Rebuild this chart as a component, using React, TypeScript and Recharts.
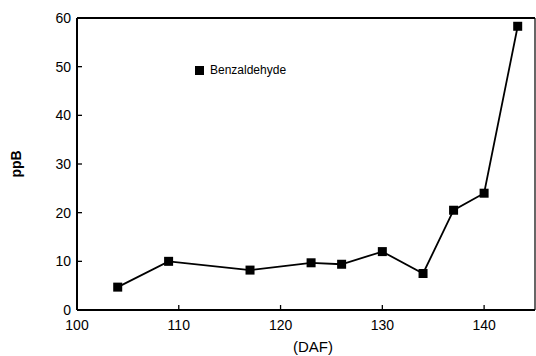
import { Line, LineChart, ReferenceLine, XAxis, YAxis } from "recharts";

const daf = [104, 109, 117, 123, 126, 130, 134, 137, 140, 143.3];
const benzaldehyde = [4.7, 10, 8.2, 9.7, 9.4, 12, 7.5, 20.5, 24, 58.3];
const xTicks = [100, 110, 120, 130, 140];
const yTicks = [0, 10, 20, 30, 40, 50, 60];
const seriesName = "Benzaldehyde";

const data = daf.map((d, i) => ({ daf: d, value: benzaldehyde[i] }));

const FONT = "'Liberation Sans', Arial, sans-serif";

function SquareDot(props: any) {
  const { cx, cy } = props;
  if (cx == null || cy == null) return null;
  return <rect x={cx - 4.5} y={cy - 4.5} width={9} height={9} fill="#000" />;
}

function YTick(props: any) {
  const { x, y, payload } = props;
  return (
    <g>
      <line x1={x} y1={y} x2={x + 5} y2={y} stroke="#000" strokeWidth={1.3} />
      <text x={x - 6} y={y + 5} textAnchor="end" fontSize={14} fontFamily={FONT} fill="#000">
        {payload.value}
      </text>
    </g>
  );
}

function XTick(props: any) {
  const { x, y, payload } = props;
  return (
    <g>
      <line x1={x} y1={y} x2={x} y2={y - 5} stroke="#000" strokeWidth={1.3} />
      <text x={x} y={y + 20} textAnchor="middle" fontSize={14} fontFamily={FONT} fill="#000">
        {payload.value}
      </text>
    </g>
  );
}

export default function App() {
  return (
    <div style={{ position: "absolute", left: 0, top: 0, width: 536, height: 356, background: "#fff" }}>
      <LineChart
        width={536}
        height={356}
        data={data}
        margin={{ top: 18, right: 1, left: 0, bottom: 0 }}
      >
        <XAxis
          dataKey="daf"
          type="number"
          domain={[100, 145]}
          ticks={xTicks}
          height={46}
          tickSize={0}
          tickMargin={0}
          tickLine={false}
          axisLine={{ stroke: "#000", strokeWidth: 2 }}
          tick={<XTick />}
          label={{
            content: (p: any) => (
              <text
                x={p.viewBox.x + p.viewBox.width / 2 + 7}
                y={p.viewBox.y + 42}
                textAnchor="middle"
                fontSize={15}
                fontFamily={FONT}
                fill="#000"
              >
                (DAF)
              </text>
            ),
          }}
        />
        <YAxis
          type="number"
          domain={[0, 60]}
          ticks={yTicks}
          width={77}
          tickSize={0}
          tickMargin={0}
          tickLine={false}
          axisLine={{ stroke: "#000", strokeWidth: 2 }}
          tick={<YTick />}
          label={{
            content: (p: any) => {
              const cx = p.viewBox.x + 21;
              const cy = p.viewBox.y + p.viewBox.height / 2;
              return (
                <text
                  x={cx}
                  y={cy}
                  transform={`rotate(-90 ${cx} ${cy})`}
                  textAnchor="middle"
                  fontSize={14}
                  fontWeight="bold"
                  fontFamily={FONT}
                  fill="#000"
                >
                  ppB
                </text>
              );
            },
          }}
        />
        <ReferenceLine y={60} stroke="#000" strokeWidth={2} />
        <ReferenceLine x={145} stroke="#000" strokeWidth={1.2} />
        <Line
          dataKey="value"
          name={seriesName}
          stroke="#000"
          strokeWidth={1.8}
          dot={<SquareDot />}
          activeDot={false}
          isAnimationActive={false}
        />
      </LineChart>
      <div
        style={{
          position: "absolute",
          left: 195,
          top: 63,
          display: "flex",
          alignItems: "center",
          fontFamily: FONT,
          fontSize: 12,
        }}
      >
        <span style={{ width: 9, height: 9, background: "#000", display: "inline-block", marginRight: 6 }} />
        <span>{seriesName}</span>
      </div>
    </div>
  );
}
